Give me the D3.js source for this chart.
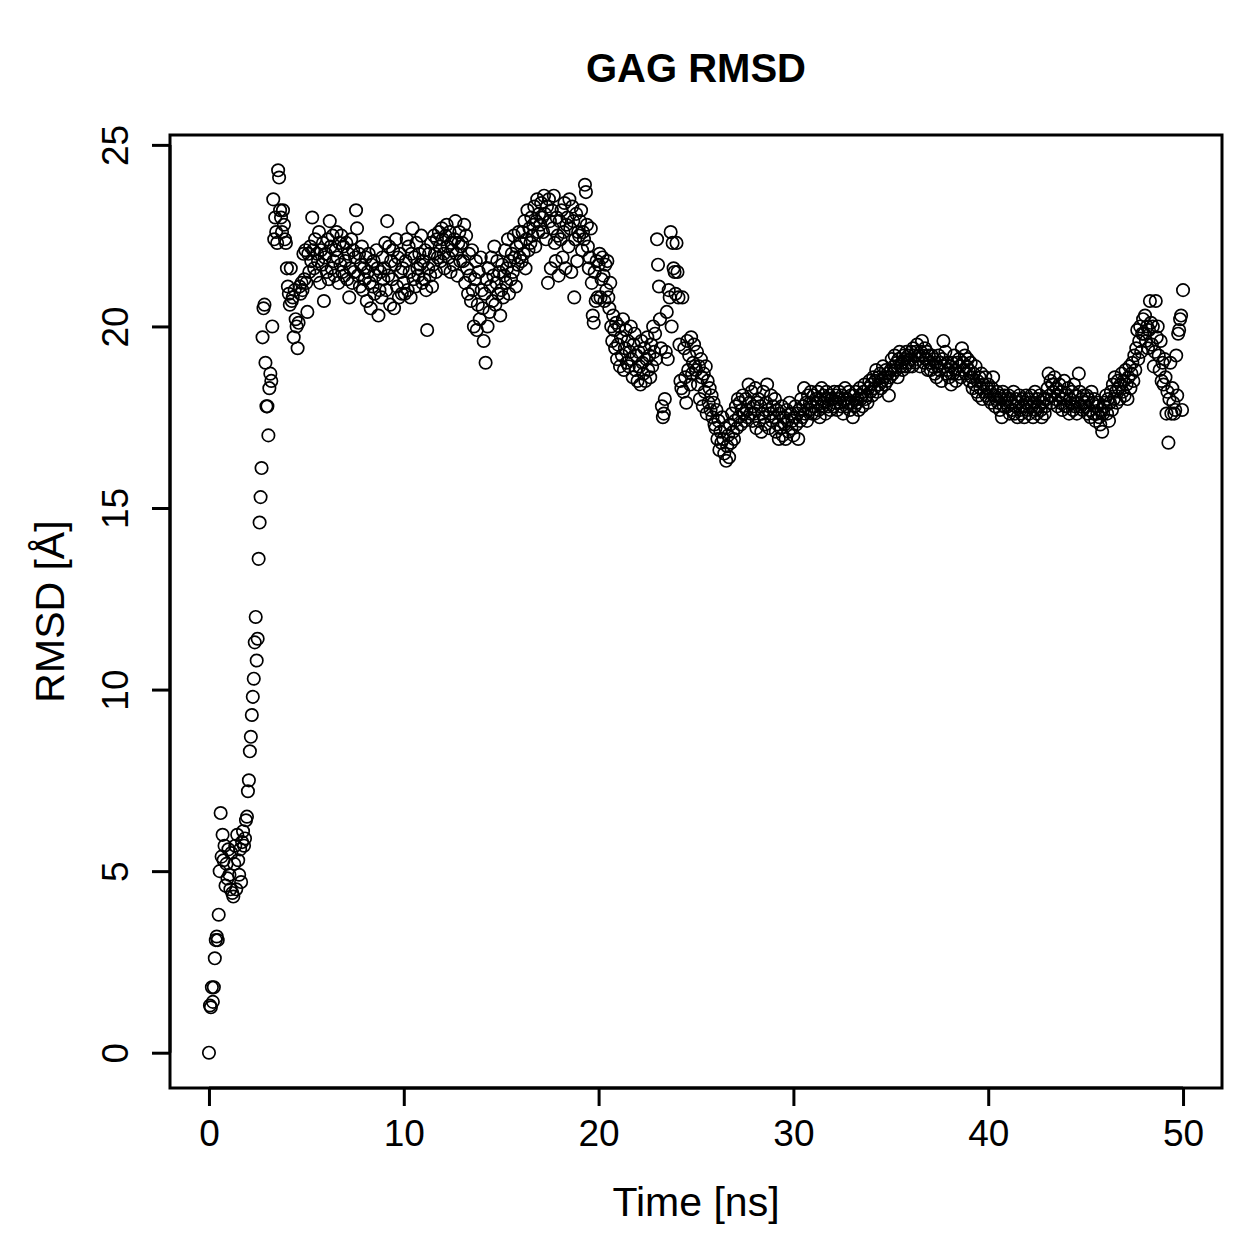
<!DOCTYPE html>
<html lang="en">
<head>
  <meta charset="UTF-8">
  <title>GAG RMSD</title>
  <script src="https://d3js.org/d3.v7.min.js"></script>
  <style>
    body { margin: 0; background: #ffffff; }
    .chart text { font-family: 'Liberation Sans', Arial, Helvetica, sans-serif; fill: #000; }
    .title { font-size: 40px; font-weight: 700; }
    .axis-label { font-size: 41px; }
    .tick-label { font-size: 37px; }
  </style>
</head>
<body>
  <svg class="chart" width="1259" height="1259"></svg>

  <script>
    // sampling of the trajectory (ns between frames)
    const timeStep = 0.05;

    // RMSD [Å], one value per frame, 20 frames per ns
    const rmsd = [
      // 0 ns
      0, 1.3, 1.25, 1.8, 1.4, 1.8, 2.6, 3.1, 3.2, 3.1, 3.8, 5.0, 6.6, 5.4, 6.0, 5.3, 5.7, 4.6, 5.2, 4.8,
      // 1 ns
      5.6, 4.9, 4.5, 5.5, 4.4, 4.3, 5.2, 5.7, 4.5, 6.0, 5.3, 4.9, 5.6, 4.7, 5.8, 6.1, 5.7, 5.9, 6.4, 6.5,
      // 2 ns
      7.2, 7.5, 8.3, 8.7, 9.3, 9.8, 10.3, 11.3, 12.0, 10.8, 11.4, 13.6, 14.6, 15.3, 16.1, 19.7, 20.5, 20.6, 19.0, 17.8,
      // 3 ns
      17.8, 17.0, 18.3, 18.7, 18.5, 20.0, 23.5, 22.4, 23.0, 22.6, 22.3, 24.3, 24.1, 23.2, 23.0, 22.6, 23.2, 22.8, 22.4, 22.3,
      // 4 ns
      21.6, 21.1, 20.9, 20.6, 21.6, 20.7, 20.8, 19.7, 21.0, 20.2, 20.0, 19.4, 20.1, 21.1, 20.9, 21.2, 21.0, 22.0, 21.3, 22.1,
      // 5 ns
      21.2, 20.4, 22.0, 21.5, 22.2, 21.8, 23.0, 22.1, 21.6, 22.4, 21.4, 22.0, 21.8, 22.6, 21.2, 22.1, 21.7, 22.3, 20.7, 21.9,
      // 6 ns
      22.0, 21.5, 22.4, 21.3, 22.9, 22.2, 21.6, 22.5, 21.8, 21.4, 22.1, 22.6, 21.9, 21.2, 22.3, 21.7, 22.5, 21.5, 22.2, 21.4,
      // 7 ns
      21.8, 22.3, 21.3, 22.0, 20.8, 21.6, 22.4, 21.2, 22.1, 21.5, 21.9, 23.2, 22.7, 21.4, 22.0, 21.1, 21.7, 22.2, 21.0, 21.6,
      // 8 ns
      21.3, 21.9, 20.7, 21.5, 22.0, 21.2, 20.5, 21.7, 21.1, 21.8, 20.9, 21.4, 22.1, 21.6, 20.3, 21.0, 21.5, 20.8, 21.9, 21.3,
      // 9 ns
      21.6, 22.3, 21.0, 22.9, 21.4, 22.2, 20.6, 21.8, 21.3, 22.1, 20.5, 21.7, 22.4, 21.1, 21.9, 20.8, 22.0, 21.5, 20.9, 21.6,
      // 10 ns
      21.2, 20.9, 21.8, 22.4, 21.0, 22.2, 21.5, 20.8, 22.0, 22.7, 21.3, 21.9, 21.1, 22.3, 21.6, 21.4, 22.0, 21.7, 22.5, 21.2,
      // 11 ns
      21.8, 21.3, 22.1, 21.0, 19.9, 21.6, 22.0, 21.4, 22.3, 21.1, 21.7, 22.5, 22.0, 21.5, 22.4, 21.9, 22.6, 22.2, 21.8, 22.7,
      // 12 ns
      22.4, 22.0, 21.6, 22.5, 22.8, 22.2, 21.9, 22.6, 21.5, 22.3, 22.1, 21.7, 22.4, 22.9, 22.0, 21.4, 22.3, 22.6, 21.8, 22.2,
      // 13 ns
      22.3, 21.8, 22.8, 21.2, 22.5, 21.6, 20.9, 22.0, 21.4, 20.7, 22.1, 21.0, 20.0, 21.3, 21.8, 19.9, 20.6, 21.5, 20.2, 21.9,
      // 14 ns
      21.0, 20.5, 19.6, 20.9, 19.0, 21.3, 20.0, 21.6, 20.4, 21.1, 21.9, 20.7, 21.4, 22.2, 20.6, 21.2, 21.8, 20.9, 21.5, 20.3,
      // 15 ns
      21.0, 21.7, 20.8, 21.4, 22.1, 21.2, 21.6, 22.4, 20.9, 21.8, 21.3, 22.0, 21.5, 22.5, 21.9, 21.1, 22.2, 21.7, 22.6, 21.9,
      // 16 ns
      22.3, 21.8, 22.6, 22.0, 22.9, 21.6, 22.4, 23.2, 22.1, 22.7, 22.3, 23.0, 22.5, 22.8, 23.3, 22.2, 22.9, 23.5, 22.6, 23.1,
      // 17 ns
      22.8, 23.4, 23.0, 22.6, 23.6, 23.1, 22.4, 23.3, 21.2, 23.5, 22.9, 21.6, 23.2, 22.7, 23.6, 22.3, 21.8, 23.0, 22.5, 21.4,
      // 18 ns
      22.9, 22.4, 23.2, 21.9, 22.6, 23.4, 21.6, 22.8, 23.0, 22.2, 23.5, 22.7, 21.5, 23.3, 22.9, 20.8, 22.4, 23.1, 21.8, 22.6,
      // 19 ns
      22.5, 22.9, 23.2, 22.1, 22.6, 22.4, 23.9, 23.7, 22.8, 22.2, 21.6, 21.9, 22.7, 21.2, 20.3, 20.1, 21.5, 20.7, 21.8, 20.8,
      // 20 ns
      21.7, 22.0, 20.8, 21.3, 21.9, 21.4, 20.7, 21.7, 21.0, 21.8, 20.8, 20.5, 21.2, 20.0, 19.6, 20.3, 19.9, 19.4, 20.1, 19.1,
      // 21 ns
      19.5, 20.0, 18.9, 19.7, 19.2, 20.2, 18.8, 19.4, 19.9, 19.0, 19.6, 18.9, 19.3, 20.0, 19.1, 18.6, 19.5, 19.8, 18.8, 19.2,
      // 22 ns
      18.5, 19.3, 18.9, 18.4, 19.6, 19.0, 18.7, 19.4, 18.5, 19.1, 19.7, 18.8, 19.2, 18.6, 19.5, 18.9, 20.0, 19.3, 19.8, 19.1,
      // 23 ns
      22.4, 21.7, 21.1, 20.2, 19.4, 17.8, 17.5, 17.6, 18.0, 19.3, 20.4, 19.1, 21.0, 20.8, 22.6, 20.0, 22.3, 21.6, 21.5, 20.9,
      // 24 ns
      22.3, 21.5, 20.8, 19.5, 18.5, 18.3, 20.8, 18.2, 19.4, 18.6, 17.9, 19.6, 18.8, 19.2, 18.4, 19.7, 18.7, 19.0, 19.5, 18.9,
      // 25 ns
      18.8, 19.3, 18.4, 18.9, 18.0, 19.1, 18.6, 17.8, 18.7, 18.2, 18.9, 17.6, 18.5, 17.9, 18.3, 17.7, 18.1, 17.5, 17.9, 17.3,
      // 26 ns
      17.2, 17.7, 16.9, 17.4, 16.6, 17.1, 16.8, 17.5, 16.9, 16.5, 17.2, 16.3, 16.7, 17.0, 16.4, 17.3, 16.8, 17.6, 17.1, 16.9,
      // 27 ns
      17.4, 17.8, 17.2, 18.0, 17.5, 17.9, 17.3, 17.7, 18.1, 17.6, 17.4, 18.0, 17.7, 17.5, 18.4, 17.9, 17.6, 18.2, 17.4, 17.8,
      // 28 ns
      17.6, 18.3, 17.2, 17.9, 18.0, 17.4, 17.8, 17.1, 17.6, 18.2, 17.5, 17.3, 17.9, 18.4, 17.7, 17.2, 17.6, 18.1, 17.4, 17.8,
      // 29 ns
      17.5, 18.0, 17.1, 17.7, 17.3, 16.9, 17.6, 17.2, 17.8, 17.0, 17.5, 17.3, 16.9, 17.7, 17.4, 17.1, 17.9, 17.6, 17.2, 17.4,
      // 30 ns
      17.0, 17.5, 17.8, 17.3, 17.6, 16.9, 17.7, 17.4, 18.0, 17.5, 17.8, 18.3, 17.6, 17.9, 17.4, 18.1, 17.7, 17.9, 18.2, 17.6,
      // 31 ns
      17.8, 18.1, 17.6, 18.0, 17.9, 18.2, 17.7, 17.5, 18.0, 18.3, 17.8, 18.1, 17.9, 17.6, 18.2, 18.0, 17.8, 18.1, 17.7, 18.0,
      // 32 ns
      18.0, 17.8, 18.2, 17.9, 18.1, 17.7, 18.0, 18.2, 17.9, 17.8, 18.1, 17.6, 18.0, 18.3, 17.8, 18.0, 17.9, 18.2, 17.7, 18.1,
      // 33 ns
      17.9, 17.5, 18.1, 17.8, 18.2, 17.9, 18.0, 17.7, 18.3, 18.0, 18.1, 17.8, 18.2, 18.4, 18.0, 18.1, 17.9, 18.3, 18.5, 18.2,
      // 34 ns
      18.4, 18.1, 18.6, 18.3, 18.5, 18.8, 18.2, 18.6, 18.4, 18.7, 18.3, 18.5, 18.9, 18.6, 18.4, 18.8, 18.5, 18.7, 18.1, 18.6,
      // 35 ns
      18.8, 19.1, 18.7, 18.9, 19.2, 18.8, 19.0, 18.6, 19.1, 19.3, 18.9, 19.0, 18.8, 19.2, 19.1, 18.9, 19.3, 19.0, 19.2, 18.9,
      // 36 ns
      19.1, 19.3, 18.9, 19.4, 19.2, 19.0, 19.3, 19.5, 19.1, 19.2, 18.9, 19.3, 19.6, 19.2, 19.0, 19.4, 19.1, 19.3, 18.8, 19.2,
      // 37 ns
      19.0, 18.8, 19.2, 18.9, 19.1, 18.7, 19.0, 18.6, 18.9, 19.2, 18.8, 19.0, 18.5, 19.1, 19.6, 18.9, 19.3, 18.7, 19.0, 18.8,
      // 38 ns
      18.6, 18.9, 18.4, 19.0, 18.7, 19.2, 18.8, 18.5, 19.0, 18.7, 19.1, 18.9, 18.6, 19.4, 19.0, 18.8, 19.2, 18.7, 18.9, 19.1,
      // 39 ns
      18.8, 18.5, 19.0, 18.6, 18.3, 18.7, 18.4, 18.9, 18.2, 18.5, 18.1, 18.6, 18.3, 18.7, 18.0, 18.4, 18.2, 18.6, 18.1, 18.3,
      // 40 ns
      18.4, 18.0, 18.2, 17.9, 18.3, 18.6, 18.1, 17.8, 18.0, 18.2, 17.9, 18.1, 17.7, 18.0, 17.5, 18.2, 17.8, 18.1, 17.9, 18.0,
      // 41 ns
      17.8, 18.1, 17.6, 18.0, 17.9, 17.7, 18.2, 17.6, 17.8, 18.0, 17.5, 17.9, 18.1, 17.7, 17.6, 18.0, 17.8, 17.5, 17.9, 18.1,
      // 42 ns
      17.7, 18.0, 17.6, 17.9, 18.1, 17.8, 17.5, 17.9, 18.2, 17.7, 17.6, 18.0, 17.8, 18.1, 17.7, 17.5, 17.9, 18.0, 17.6, 17.8,
      // 43 ns
      18.0, 18.3, 18.7, 18.1, 18.5, 17.9, 18.4, 18.2, 18.6, 18.0, 18.3, 17.8, 18.1, 18.4, 17.9, 18.2, 17.7, 18.0, 18.5, 17.8,
      // 44 ns
      18.1, 17.8, 18.3, 17.6, 18.0, 17.9, 18.2, 17.7, 18.4, 17.8, 18.1, 17.6, 17.9, 18.7, 18.2, 17.8, 18.0, 17.7, 18.1, 17.9,
      // 45 ns
      17.8, 18.1, 17.6, 18.0, 17.7, 17.5, 18.2, 17.9, 17.6, 18.0, 17.4, 17.8, 17.6, 17.9, 17.5, 17.3, 17.7, 17.1, 17.6, 17.9,
      // 46 ns
      17.8, 18.1, 17.6, 18.0, 17.4, 17.9, 18.2, 17.7, 18.4, 18.0, 18.6, 18.2, 17.9, 18.5, 18.3, 18.0, 18.4, 18.7, 18.2, 18.5,
      // 47 ns
      18.1, 18.8, 18.4, 18.0, 18.6, 18.9, 18.3, 18.7, 19.0, 18.5, 19.2, 18.8, 19.4, 19.9, 19.1, 19.6, 20.0, 19.3, 19.8, 20.2,
      // 48 ns
      19.8, 20.3, 19.6, 20.0, 19.4, 19.9, 20.7, 20.1, 19.5, 20.0, 18.9, 19.3, 20.7, 19.7, 20.0, 19.2, 18.8, 19.6, 18.5, 19.0,
      // 49 ns
      18.4, 19.1, 18.6, 17.6, 18.2, 16.8, 18.0, 19.0, 17.6, 18.3, 17.9, 17.6, 17.7, 19.2, 18.1, 19.8, 19.9, 20.2, 20.3, 17.7,
      // 50 ns
      21.0
    ];

    const xTicks = [0, 10, 20, 30, 40, 50];
    const yTicks = [0, 5, 10, 15, 20, 25];

    const points = rmsd.map((v, i) => ({t: i * timeStep, v: v}));

    const svg = d3.select(".chart"),
          margin = {top: 135, right: 37, bottom: 171, left: 170},
          w = +svg.attr("width") - margin.left - margin.right,
          h = +svg.attr("height") - margin.top - margin.bottom;

    const g = svg.append("g").attr("transform", `translate(${margin.left},${margin.top})`);

    // R style: data range padded by 4% on each side
    const pad = ([a, b]) => [a - (b - a) * 0.04, b + (b - a) * 0.04];
    const x = d3.scaleLinear().domain(pad(d3.extent(points, d => d.t))).range([0, w]);
    const y = d3.scaleLinear().domain(pad(d3.extent(points, d => d.v))).range([h, 0]);

    // points
    g.append("g")
      .selectAll("circle")
      .data(points)
      .join("circle")
      .attr("cx", d => x(d.t))
      .attr("cy", d => y(d.v))
      .attr("r", 6.2)
      .attr("fill", "none")
      .attr("stroke", "#000")
      .attr("stroke-width", 1.7);

    // box
    g.append("rect")
      .attr("width", w).attr("height", h)
      .attr("fill", "none").attr("stroke", "#000").attr("stroke-width", 3);

    // axes
    const xAxis = g.append("g")
      .attr("transform", `translate(0,${h})`)
      .call(d3.axisBottom(x).tickValues(xTicks).tickSize(18).tickPadding(14));
    const yAxis = g.append("g")
      .call(d3.axisLeft(y).tickValues(yTicks).tickSize(18).tickPadding(14));

    [xAxis, yAxis].forEach(a => {
      a.select(".domain").remove();
      a.selectAll(".tick line").attr("stroke", "#000").attr("stroke-width", 3);
      a.selectAll(".tick text").attr("class", "tick-label").attr("fill", "#000");
    });
    // axis lines across tick span, like R
    xAxis.append("line")
      .attr("x1", x(xTicks[0])).attr("x2", x(xTicks[xTicks.length - 1]))
      .attr("stroke", "#000").attr("stroke-width", 3);
    yAxis.append("line")
      .attr("y1", y(yTicks[0])).attr("y2", y(yTicks[yTicks.length - 1]))
      .attr("stroke", "#000").attr("stroke-width", 3);

    xAxis.selectAll(".tick text").attr("dy", "0.71em");

    // y tick labels rotated, like R's default
    yAxis.selectAll(".tick text")
      .attr("x", null)
      .attr("text-anchor", "middle")
      .attr("transform", "translate(-55,0) rotate(-90)")
      .attr("dy", "0.35em");

    // title and axis labels
    svg.append("text")
      .attr("class", "title")
      .attr("x", margin.left + w / 2).attr("y", 82)
      .attr("text-anchor", "middle")
      .text("GAG RMSD");

    svg.append("text")
      .attr("class", "axis-label")
      .attr("x", margin.left + w / 2).attr("y", 1216)
      .attr("text-anchor", "middle")
      .text("Time [ns]");

    svg.append("text")
      .attr("class", "axis-label")
      .attr("transform", `translate(64,${margin.top + h / 2}) rotate(-90)`)
      .attr("text-anchor", "middle")
      .text("RMSD [Å]");
  </script>
</body>
</html>
